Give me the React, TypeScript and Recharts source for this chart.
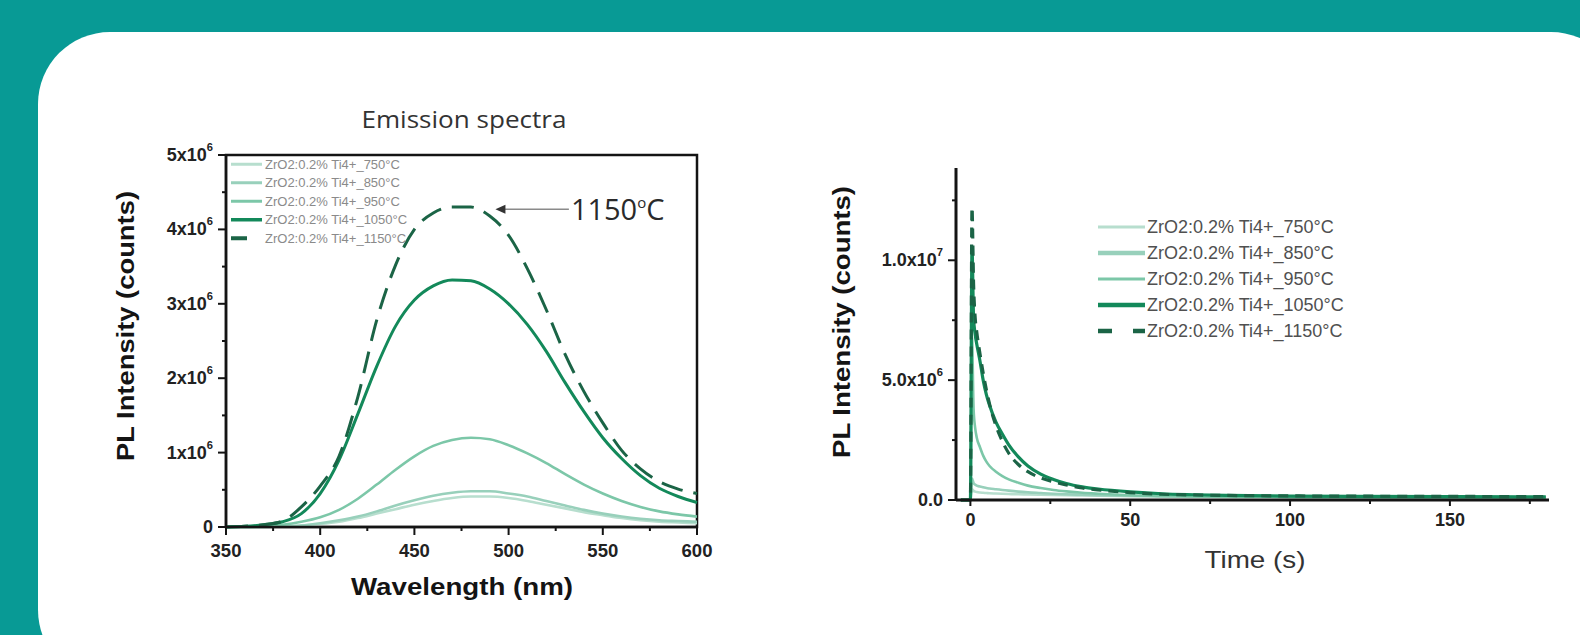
import React from "react";
import {
  LineChart,
  Line,
  XAxis,
  YAxis,
  ReferenceArea,
  ReferenceLine,
  Legend,
} from "recharts";

// ---------- palette & fonts ----------
const TEAL = "#089a95";
const INK = "#141414";
const SANS = "'Liberation Sans', Arial, sans-serif";
const HUMANIST = "'Open Sans', 'Noto Sans', sans-serif";

// ---------- samples ----------
const SAMPLE_NAMES = [
  "ZrO2:0.2% Ti4+_750°C",
  "ZrO2:0.2% Ti4+_850°C",
  "ZrO2:0.2% Ti4+_950°C",
  "ZrO2:0.2% Ti4+_1050°C",
  "ZrO2:0.2% Ti4+_1150°C",
];
const SAMPLE_KEYS = ["s750", "s850", "s950", "s1050", "s1150"];
const SAMPLE_COLORS = ["#b7dece", "#98d0bb", "#7cc7a8", "#13895a", "#1b6446"];

// ---------- emission spectra (intensity in 10^6 counts) ----------
const WAVELENGTH = [
  350, 360, 370, 380, 390, 400, 410, 420, 430, 440, 450, 460, 470, 480, 490,
  500, 510, 520, 530, 540, 550, 560, 570, 580, 590, 600,
];
const EM_750 = [
  0.0, 0.0, 0.0, 0.01, 0.02, 0.04, 0.07, 0.12, 0.18, 0.24, 0.3, 0.35, 0.39,
  0.41, 0.41, 0.39, 0.35, 0.3, 0.25, 0.2, 0.16, 0.12, 0.09, 0.07, 0.06, 0.05,
];
const EM_850 = [
  0.0, 0.0, 0.0, 0.01, 0.02, 0.05, 0.09, 0.14, 0.21, 0.29, 0.36, 0.42, 0.46,
  0.48, 0.48, 0.45, 0.41, 0.35, 0.29, 0.23, 0.18, 0.14, 0.11, 0.09, 0.08, 0.07,
];
const EM_950 = [
  0.0, 0.0, 0.01, 0.03, 0.07, 0.13, 0.23, 0.38, 0.57, 0.77, 0.95, 1.09, 1.17,
  1.2, 1.18, 1.1, 0.99, 0.86, 0.71, 0.57, 0.45, 0.35, 0.27, 0.21, 0.17, 0.14,
];
const EM_1050 = [
  0.0, 0.01, 0.03, 0.07, 0.18, 0.45, 0.9, 1.52, 2.16, 2.7, 3.05, 3.24, 3.32,
  3.31, 3.2, 3.0, 2.72, 2.36, 1.94, 1.55, 1.2, 0.92, 0.69, 0.52, 0.41, 0.33,
];
const EM_1150 = [
  0.0, 0.01, 0.03, 0.08, 0.27, 0.55, 0.95, 1.75, 2.78, 3.52, 4.0, 4.22, 4.3,
  4.3, 4.18, 3.92, 3.47, 2.92, 2.32, 1.82, 1.4, 1.03, 0.78, 0.61, 0.51, 0.45,
];

const EM_X_TICKS = [350, 375, 400, 425, 450, 475, 500, 525, 550, 575, 600];
const EM_X_MAJOR = [350, 400, 450, 500, 550, 600];
const EM_X_LABELS = [["350"], ["400"], ["450"], ["500"], ["550"], ["600"]];
const EM_Y_TICKS = [0, 0.5, 1, 1.5, 2, 2.5, 3, 3.5, 4, 4.5, 5];
const EM_Y_MAJOR = [0, 1, 2, 3, 4, 5];
const EM_Y_LABELS = [
  ["0", ""],
  ["1x10", "6"],
  ["2x10", "6"],
  ["3x10", "6"],
  ["4x10", "6"],
  ["5x10", "6"],
];

// annotated peak: arrow from the label back to the 1150°C curve
const PEAK_LABEL = "1150";
const ARROW_TIP = { x: 493, y: 4.27 };
const ARROW_TAIL_X = 532;

// ---------- decay curves (intensity in 10^6 counts) ----------
const TIME = [
  -3, 0, 0.5, 1, 1.5, 2, 3, 4, 5, 6, 8, 10, 12, 15, 18, 22, 26, 30, 35, 40, 50,
  60, 70, 80, 100, 120, 150, 180,
];
const DECAY_750 = [
  0, 0, 0.45, 0.38, 0.35, 0.33, 0.31, 0.3, 0.29, 0.28, 0.27, 0.26, 0.25, 0.24,
  0.23, 0.22, 0.21, 0.2, 0.19, 0.18, 0.17, 0.16, 0.15, 0.14, 0.13, 0.12, 0.11,
  0.1,
];
const DECAY_850 = [
  0, 0, 0.9, 0.7, 0.64, 0.6, 0.56, 0.53, 0.5, 0.48, 0.45, 0.42, 0.39, 0.35,
  0.32, 0.29, 0.26, 0.24, 0.22, 0.2, 0.17, 0.15, 0.14, 0.13, 0.12, 0.11, 0.1,
  0.1,
];
const DECAY_950 = [
  0, 0, 6.8, 3.8, 3.0, 2.6, 2.2, 1.85, 1.6, 1.42, 1.18, 1.0, 0.86, 0.72, 0.6,
  0.5, 0.42, 0.36, 0.3, 0.26, 0.2, 0.17, 0.15, 0.14, 0.13, 0.12, 0.11, 0.1,
];
const DECAY_1050 = [
  0, 0, 10.5, 7.6, 6.9, 6.5, 5.8, 5.0, 4.4, 3.95, 3.25, 2.75, 2.3, 1.8, 1.42,
  1.08, 0.86, 0.69, 0.55, 0.46, 0.34, 0.26, 0.22, 0.19, 0.16, 0.15, 0.14, 0.13,
];
const DECAY_1150 = [
  0, 0, 12.2, 9.0, 7.6, 7.0, 6.1, 5.3, 4.6, 4.0, 3.1, 2.45, 1.95, 1.48, 1.18,
  0.92, 0.76, 0.63, 0.5, 0.42, 0.31, 0.24, 0.21, 0.19, 0.17, 0.16, 0.15, 0.14,
];

const DC_X_TICKS = [0, 25, 50, 75, 100, 125, 150, 175];
const DC_X_MAJOR = [0, 50, 100, 150];
const DC_X_LABELS = [["0"], ["50"], ["100"], ["150"]];
const DC_Y_TICKS = [0, 2.5, 5, 7.5, 10, 12.5];
const DC_Y_MAJOR = [0, 5, 10];
const DC_Y_LABELS = [
  ["0.0", ""],
  ["5.0x10", "6"],
  ["1.0x10", "7"],
];

// ---------- tables for the charts ----------
const EMISSION_SERIES = [EM_750, EM_850, EM_950, EM_1050, EM_1150];
const DECAY_SERIES = [DECAY_750, DECAY_850, DECAY_950, DECAY_1050, DECAY_1150];

const emissionData = WAVELENGTH.map((wl, i) => {
  const row: Record<string, number> = { wl };
  SAMPLE_KEYS.forEach((k, s) => (row[k] = EMISSION_SERIES[s][i]));
  return row;
});
const decayData = TIME.map((t, i) => {
  const row: Record<string, number> = { t };
  SAMPLE_KEYS.forEach((k, s) => (row[k] = DECAY_SERIES[s][i]));
  return row;
});

// ---------- axis ticks with major / minor marks ----------
type TickOpts = {
  side: "left" | "bottom";
  majors: number[];
  labels: string[][];
  majorLen: number;
  minorLen: number;
  gap: number;
  fontSize: number;
};

const makeTick = (o: TickOpts) => (props: any) => {
  const { x, y, payload } = props;
  const v = payload.value as number;
  const idx = o.majors.findIndex((m) => Math.abs(m - v) < 1e-9);
  const major = idx >= 0;
  const len = major ? o.majorLen : o.minorLen;
  const base = major ? o.labels[idx][0] : "";
  const exp = major ? o.labels[idx][1] : "";
  const textStyle = {
    fontFamily: SANS,
    fontWeight: 700,
    fontSize: o.fontSize,
    fill: "#222",
  };
  if (o.side === "left") {
    return (
      <g>
        <line x1={x} y1={y} x2={x - len} y2={y} stroke={INK} strokeWidth={2} />
        {major && (
          <text
            x={x - o.majorLen - o.gap}
            y={y}
            textAnchor="end"
            dominantBaseline="central"
            style={textStyle}
          >
            {base}
            {exp && (
              <tspan dy={-8} fontSize={o.fontSize * 0.62}>
                {exp}
              </tspan>
            )}
          </text>
        )}
      </g>
    );
  }
  return (
    <g>
      <line x1={x} y1={y} x2={x} y2={y + len} stroke={INK} strokeWidth={2} />
      {major && (
        <text
          x={x}
          y={y + o.gap}
          textAnchor="middle"
          dominantBaseline="central"
          style={textStyle}
        >
          {base}
        </text>
      )}
    </g>
  );
};

const emXTick = makeTick({
  side: "bottom",
  majors: EM_X_MAJOR,
  labels: EM_X_LABELS,
  majorLen: 8,
  minorLen: 4,
  gap: 23,
  fontSize: 18.5,
});
const emYTick = makeTick({
  side: "left",
  majors: EM_Y_MAJOR,
  labels: EM_Y_LABELS,
  majorLen: 8,
  minorLen: 4,
  gap: 5,
  fontSize: 18,
});
const dcXTick = makeTick({
  side: "bottom",
  majors: DC_X_MAJOR,
  labels: DC_X_LABELS,
  majorLen: 6,
  minorLen: 4,
  gap: 20,
  fontSize: 18,
});
const dcYTick = makeTick({
  side: "left",
  majors: DC_Y_MAJOR,
  labels: DC_Y_LABELS,
  majorLen: 8,
  minorLen: 4,
  gap: 5,
  fontSize: 18,
});

// ---------- legends ----------
const EM_LEGEND_WIDTHS = [3, 3, 3, 3.5, 4];
const DC_LEGEND_WIDTHS = [3, 4.5, 3, 4.5, 4.5];

function EmissionLegend() {
  const rowH = 18.5;
  return (
    <svg width={230} height={rowH * 5} style={{ display: "block" }}>
      {SAMPLE_NAMES.map((name, i) => {
        const y = rowH * (i + 0.5);
        const last = i === SAMPLE_NAMES.length - 1;
        return (
          <g key={name}>
            <line
              x1={0}
              x2={last ? 16 : 31}
              y1={y}
              y2={y}
              stroke={SAMPLE_COLORS[i]}
              strokeWidth={EM_LEGEND_WIDTHS[i]}
            />
            <text
              x={34}
              y={y}
              dominantBaseline="central"
              style={{ fontFamily: SANS, fontSize: 13, fill: "#8a8a8a" }}
            >
              {name}
            </text>
          </g>
        );
      })}
    </svg>
  );
}

function DecayLegend() {
  const rowH = 26;
  return (
    <svg width={300} height={rowH * 5} style={{ display: "block" }}>
      {SAMPLE_NAMES.map((name, i) => {
        const y = rowH * (i + 0.5);
        const last = i === SAMPLE_NAMES.length - 1;
        return (
          <g key={name}>
            <line
              x1={0}
              x2={47}
              y1={y}
              y2={y}
              stroke={SAMPLE_COLORS[i]}
              strokeWidth={DC_LEGEND_WIDTHS[i]}
              strokeDasharray={last ? "14 21" : undefined}
            />
            <text
              x={49}
              y={y}
              dominantBaseline="central"
              style={{ fontFamily: SANS, fontSize: 18, fill: "#505050" }}
            >
              {name}
            </text>
          </g>
        );
      })}
    </svg>
  );
}

// ---------- annotation arrow ----------
function PeakArrow(p: any) {
  const { x1, y1, x2 } = p;
  return (
    <g>
      <line x1={x1 + 8} y1={y1} x2={x2} y2={y1} stroke="#8a8a8a" strokeWidth={1.6} />
      <polygon
        points={`${x1},${y1} ${x1 + 10},${y1 - 4.5} ${x1 + 10},${y1 + 4.5}`}
        fill="#333"
      />
      <text
        x={x2 + 2}
        y={y1 + 11}
        style={{ fontFamily: HUMANIST, fontSize: 29, fill: "#2a2a2a" }}
      >
        {PEAK_LABEL}
        <tspan dy={-12} fontSize={15}>
          o
        </tspan>
        <tspan dy={12}>C</tspan>
      </text>
    </g>
  );
}

// ---------- charts ----------
function EmissionChart() {
  return (
    <LineChart
      width={620}
      height={520}
      data={emissionData}
      margin={{ top: 55, right: 23, bottom: 63, left: 56 }}
    >
      <XAxis
        dataKey="wl"
        type="number"
        domain={[350, 600]}
        ticks={EM_X_TICKS}
        interval={0}
        height={30}
        tickSize={0}
        tickMargin={0}
        tickLine={false}
        tick={emXTick}
        axisLine={{ stroke: INK, strokeWidth: 2.5 }}
      />
      <YAxis
        type="number"
        domain={[0, 5]}
        ticks={EM_Y_TICKS}
        interval={0}
        width={70}
        tickSize={0}
        tickMargin={0}
        tickLine={false}
        tick={emYTick}
        axisLine={{ stroke: INK, strokeWidth: 2.5 }}
      />
      <ReferenceArea
        x1={350}
        x2={600}
        y1={0}
        y2={5}
        fill="none"
        stroke={INK}
        strokeWidth={2.5}
        ifOverflow="visible"
      />
      {SAMPLE_KEYS.map((k, i) => (
        <Line
          key={k}
          dataKey={k}
          type="monotone"
          stroke={SAMPLE_COLORS[i]}
          strokeWidth={i >= 3 ? 3 : 2.6}
          strokeDasharray={i === 4 ? "22 11" : undefined}
          dot={false}
          isAnimationActive={false}
        />
      ))}
      <ReferenceLine
        segment={[ARROW_TIP, { x: ARROW_TAIL_X, y: ARROW_TIP.y }]}
        ifOverflow="visible"
        shape={(p: any) => <PeakArrow {...p} />}
      />
      <Legend
        layout="vertical"
        align="center"
        verticalAlign="middle"
        wrapperStyle={{ left: 131, top: 55, width: 230, height: 93 }}
        content={() => <EmissionLegend />}
      />
    </LineChart>
  );
}

function DecayChart() {
  return (
    <LineChart
      width={780}
      height={430}
      data={decayData}
      margin={{ top: 18, right: 31, bottom: 50, left: 81 }}
    >
      <XAxis
        dataKey="t"
        type="number"
        domain={[-4.5, 181]}
        ticks={DC_X_TICKS}
        interval={0}
        height={30}
        tickSize={0}
        tickMargin={0}
        tickLine={false}
        tick={dcXTick}
        axisLine={{ stroke: INK, strokeWidth: 3 }}
      />
      <YAxis
        type="number"
        domain={[0, 13.85]}
        ticks={DC_Y_TICKS}
        interval={0}
        width={75}
        tickSize={0}
        tickMargin={0}
        tickLine={false}
        tick={dcYTick}
        axisLine={{ stroke: INK, strokeWidth: 3 }}
      />
      {SAMPLE_KEYS.map((k, i) => (
        <Line
          key={k}
          dataKey={k}
          type="monotone"
          stroke={SAMPLE_COLORS[i]}
          strokeWidth={i >= 3 ? 3.2 : 2.6}
          strokeDasharray={i === 4 ? "10 7" : undefined}
          dot={false}
          isAnimationActive={false}
        />
      ))}
      <Legend
        layout="vertical"
        align="center"
        verticalAlign="middle"
        wrapperStyle={{ left: 298, top: 64, width: 300, height: 130 }}
        content={() => <DecayLegend />}
      />
    </LineChart>
  );
}

// ---------- page ----------
export default function App() {
  const boldLabel = {
    fontFamily: SANS,
    fontWeight: 700,
    fontSize: 23,
    fill: INK,
  } as const;
  return (
    <div
      style={{
        position: "fixed",
        left: 0,
        top: 0,
        width: 1580,
        height: 635,
        overflow: "hidden",
        background: TEAL,
      }}
    >
      <div
        style={{
          position: "absolute",
          left: 38,
          top: 32,
          width: 1585,
          height: 650,
          background: "#fff",
          borderRadius: 72,
        }}
      />
      <div style={{ position: "absolute", left: 100, top: 100 }}>
        <EmissionChart />
      </div>
      <div style={{ position: "absolute", left: 800, top: 150 }}>
        <DecayChart />
      </div>
      <svg
        width={1580}
        height={635}
        style={{ position: "absolute", left: 0, top: 0, pointerEvents: "none" }}
      >
        <text
          x={464}
          y={128}
          textAnchor="middle"
          textLength={205}
          lengthAdjust="spacingAndGlyphs"
          style={{ fontFamily: HUMANIST, fontSize: 23, fill: "#333" }}
        >
          Emission spectra
        </text>
        <text
          x={0}
          y={0}
          transform="translate(126 326) rotate(-90)"
          textAnchor="middle"
          dominantBaseline="central"
          textLength={270}
          lengthAdjust="spacingAndGlyphs"
          style={boldLabel}
        >
          PL Intensity (counts)
        </text>
        <text
          x={462}
          y={595}
          textAnchor="middle"
          textLength={222}
          lengthAdjust="spacingAndGlyphs"
          style={boldLabel}
        >
          Wavelength (nm)
        </text>
        <text
          x={0}
          y={0}
          transform="translate(842 322) rotate(-90)"
          textAnchor="middle"
          dominantBaseline="central"
          textLength={272}
          lengthAdjust="spacingAndGlyphs"
          style={boldLabel}
        >
          PL Intensity (counts)
        </text>
        <text
          x={1255}
          y={568}
          textAnchor="middle"
          textLength={101}
          lengthAdjust="spacingAndGlyphs"
          style={{ fontFamily: SANS, fontSize: 24, fill: "#333" }}
        >
          Time (s)
        </text>
      </svg>
    </div>
  );
}
